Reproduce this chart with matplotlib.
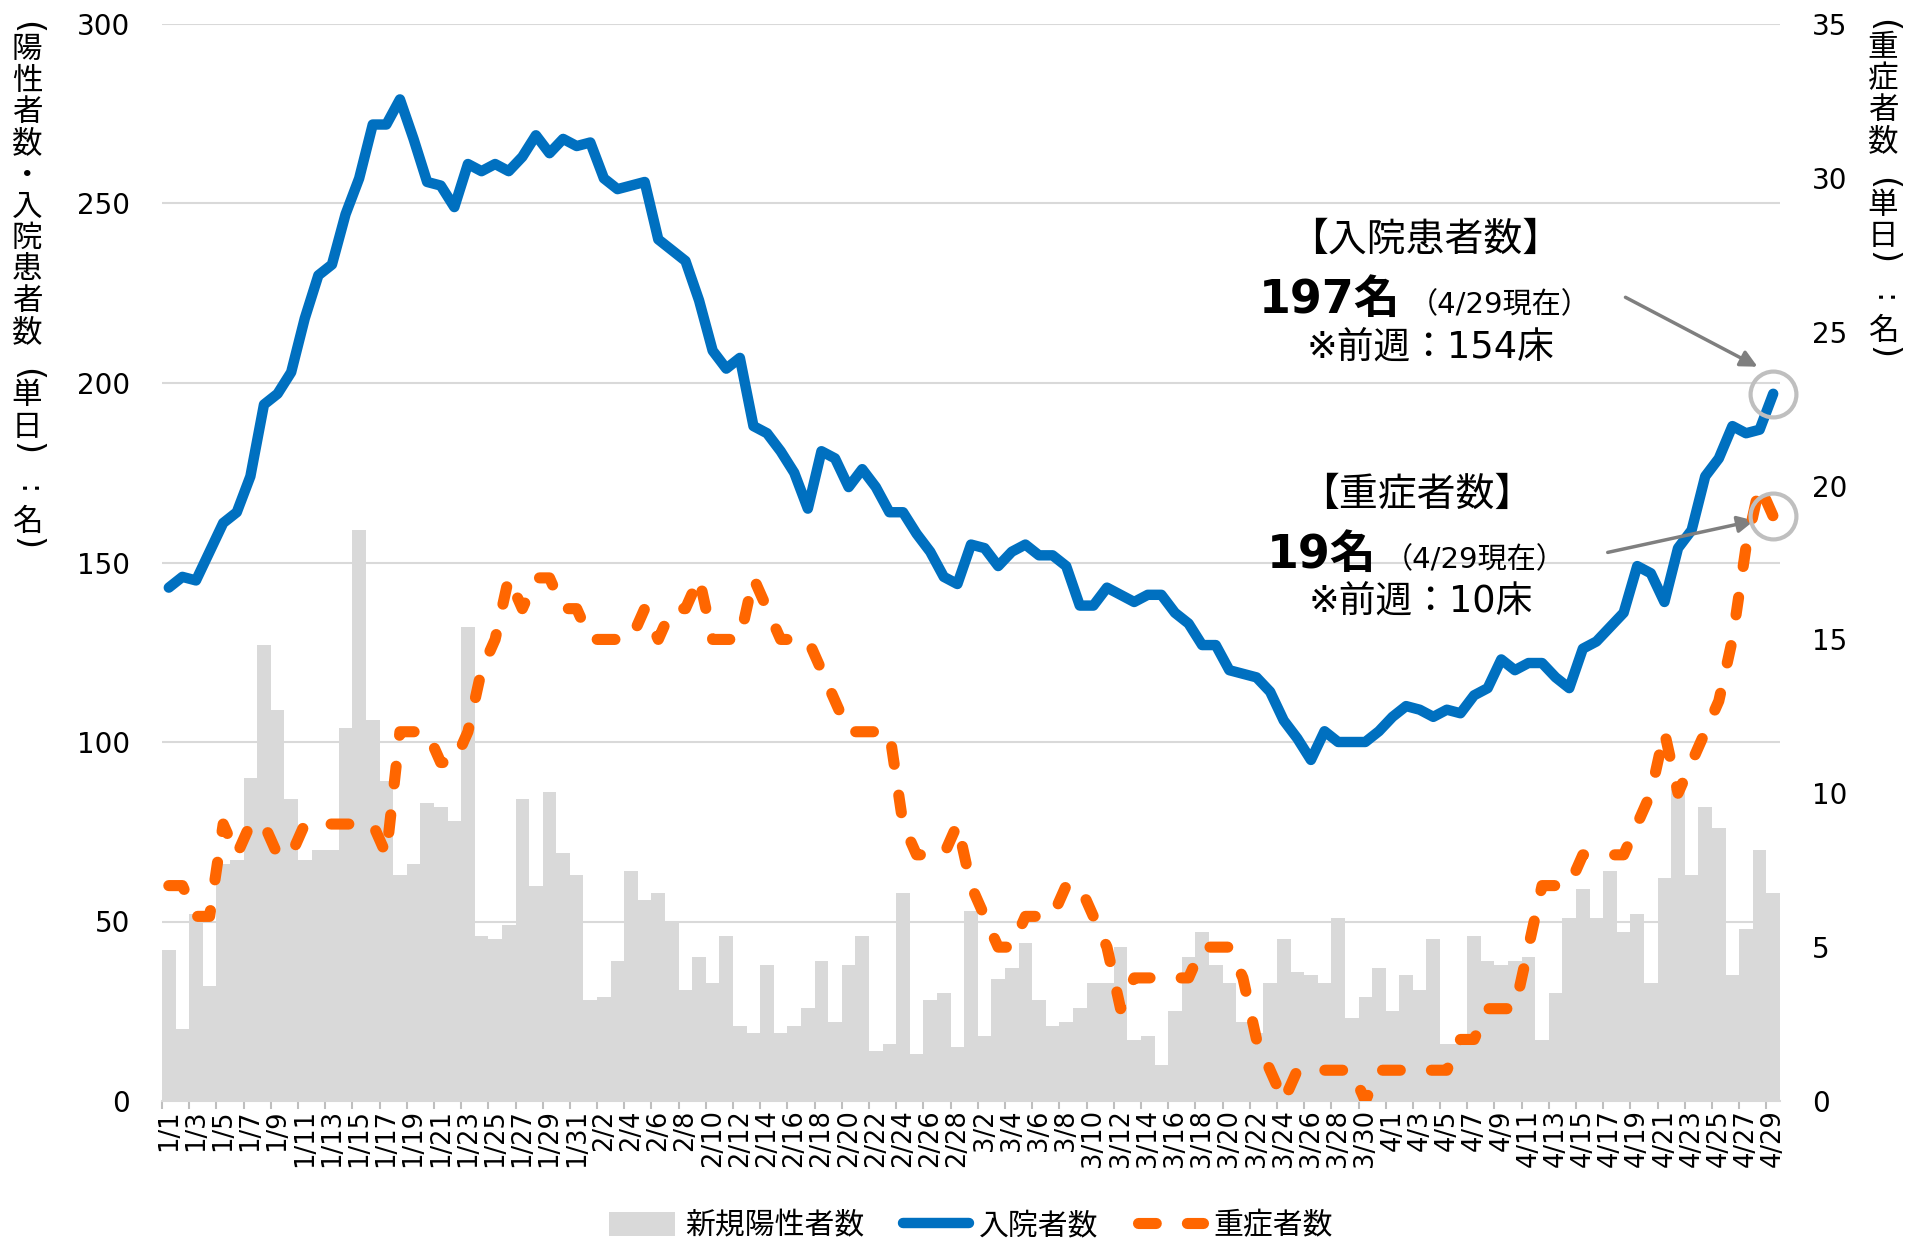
import matplotlib
matplotlib.use("Agg")
import matplotlib.pyplot as plt
from matplotlib.patches import Patch
from matplotlib.lines import Line2D

plt.rcParams['font.family'] = ['DejaVu Sans', 'Noto Sans CJK JP']

W, H = 1907, 1241

# categories: every day 1/1 .. 4/29
month_days = [(1, 31), (2, 28), (3, 31), (4, 29)]
dates = [f"{m}/{d}" for m, n in month_days for d in range(1, n + 1)]

# new positives (left axis)
new_cases = [
    42, 20, 52, 32, 66, 67, 90, 127, 109, 84, 67, 70, 70, 104, 159, 106, 89, 63, 66, 83,
    82, 78, 132, 46, 45, 49, 84, 60, 86, 69, 63,
    28, 29, 39, 64, 56, 58, 50, 31, 40, 33, 46, 21, 19, 38, 19, 21, 26, 39, 22, 38,
    46, 14, 16, 58, 13, 28, 30, 15,
    53, 18, 34, 37, 44, 28, 21, 22, 26, 33, 33, 43, 17, 18, 10, 25, 40, 47, 38, 33,
    22, 19, 33, 45, 36, 35, 33, 51, 23, 29, 37,
    25, 35, 31, 45, 16, 16, 46, 39, 38, 39, 40, 17, 30, 51, 59, 51, 64, 47, 52, 33,
    62, 87, 63, 82, 76, 35, 48, 70, 58,
]

# hospitalized (left axis)
hospital = [
    143, 146, 145, 153, 161, 164, 174, 194, 197, 203, 218, 230, 233, 247, 257, 272, 272, 279, 268, 256,
    255, 249, 261, 259, 261, 259, 263, 269, 264, 268, 266,
    267, 257, 254, 255, 256, 240, 237, 234, 223, 209, 204, 207, 188, 186, 181, 175, 165, 181, 179, 171,
    176, 171, 164, 164, 158, 153, 146, 144,
    155, 154, 149, 153, 155, 152, 152, 149, 138, 138, 143, 141, 139, 141, 141, 136, 133, 127, 127, 120,
    119, 118, 114, 106, 101, 95, 103, 100, 100, 100, 103,
    107, 110, 109, 107, 109, 108, 113, 115, 123, 120, 122, 122, 118, 115, 126, 128, 132, 136, 149, 147,
    139, 154, 159, 174, 179, 188, 186, 187, 197,
]

# severe (right axis)
severe = [
    7, 7, 6, 6, 9, 8, 9, 9, 8, 8, 9, 9, 9, 9, 9, 9, 8, 12, 12, 12,
    11, 11, 12, 14, 15, 17, 16, 17, 17, 16, 16,
    15, 15, 15, 15, 16, 15, 16, 16, 17, 15, 15, 15, 17, 16, 15, 15, 15, 14, 13, 12,
    12, 12, 12, 9, 8, 8, 8, 9,
    7, 6, 5, 5, 6, 6, 6, 7, 7, 6, 5, 3, 4, 4, 4, 4, 4, 5, 5, 5,
    4, 2, 1, 0, 1, 1, 1, 1, 1, 0, 1,
    1, 1, 1, 1, 1, 2, 2, 3, 3, 3, 5, 7, 7, 7, 8, 8, 8, 8, 9, 10,
    12, 10, 11, 12, 13, 15, 18, 20, 19,
]

left_ticks = [0, 50, 100, 150, 200, 250, 300]
right_ticks = [0, 5, 10, 15, 20, 25, 30, 35]

GRAY_BAR = '#d9d9d9'
BLUE = '#0070c0'
ORANGE = '#ff6600'

fig = plt.figure(figsize=(W / 100, H / 100), dpi=100)
ax = fig.add_axes([162 / W, 1 - 1101 / H, (1780 - 162) / W, (1101 - 24) / H])
ax2 = ax.twinx()

x = list(range(len(dates)))
ax.bar(x, new_cases, width=1.0, color=GRAY_BAR, zorder=2)
ax.plot(x, hospital, color=BLUE, lw=7.5, solid_capstyle='round',
        solid_joinstyle='round', zorder=3)
ax2.plot(x, severe, color=ORANGE, lw=8, linestyle=(0, (1.6, 2.8)),
         dash_capstyle='round', dash_joinstyle='round', zorder=3)

# highlight rings on the latest values
ax.plot(x[-1], hospital[-1], 'o', ms=33, mfc='none', mec='#bfbfbf', mew=3,
        zorder=4, clip_on=False)
ax2.plot(x[-1], severe[-1], 'o', ms=33, mfc='none', mec='#bfbfbf', mew=3,
         zorder=4, clip_on=False)

ax.set_xlim(-0.5, len(dates) - 0.5)
ax.set_ylim(0, 300)
ax2.set_ylim(0, 35)
ax.set_yticks(left_ticks)
ax2.set_yticks(right_ticks)

ax.set_xticks(x[::2])
ax.set_xticklabels(dates[::2], rotation=90, fontsize=18.5)
ax.set_xticks([i - 0.5 for i in x[::2]], minor=True)
ax.tick_params(axis='x', which='major', length=0, pad=6)
ax.tick_params(axis='x', which='minor', length=6, width=1.5, color='#bfbfbf')
ax.tick_params(axis='y', length=0, pad=23, labelsize=20)
ax2.tick_params(axis='y', length=0, pad=23, labelsize=20)

ax.set_axisbelow(True)
ax.yaxis.grid(True, color='#d9d9d9', lw=1.5, zorder=0)
for s in ('top', 'left', 'right'):
    ax.spines[s].set_visible(False)
ax.spines['bottom'].set_color('#d9d9d9')
ax.spines['bottom'].set_linewidth(1.5)
for s in ax2.spines.values():
    s.set_visible(False)


def px(xp, yp):
    return xp / W, 1 - yp / H


def vlabel(text, xp, y0, size=22, cell=31.5):
    """Stack characters top to bottom like vertical Japanese text."""
    y = y0
    for ch in text:
        dy, rot, fs = 0, 0, size
        if ch == '(':
            dy, rot, fs = 10, -90, size * 1.1
        elif ch == ')':
            dy, rot, fs = -10, -90, size * 1.1
        elif ch == ':':
            rot = -90
        fig.text(*px(xp, y + dy), ch, rotation=rot, ha='center', va='center', fontsize=fs)
        y += cell


vlabel('(陽性者数・入院患者数(単日):名)', 27, 18)
vlabel('(重症者数(単日):名)', 1883, 16)

# call-out texts
fig.text(*px(1425, 240), '【入院患者数】', ha='center', va='center', fontsize=28)
fig.text(*px(1259, 313), '197名', ha='left', va='baseline', fontsize=33, fontweight='bold')
fig.text(*px(1409, 313), '（4/29現在）', ha='left', va='baseline', fontsize=21)
fig.text(*px(1430, 347), '※前週：154床', ha='center', va='center', fontsize=26.5)

fig.text(*px(1417, 495), '【重症者数】', ha='center', va='center', fontsize=28)
fig.text(*px(1267, 568), '19名', ha='left', va='baseline', fontsize=33, fontweight='bold')
fig.text(*px(1384, 568), '（4/29現在）', ha='left', va='baseline', fontsize=21)
fig.text(*px(1421, 601), '※前週：10床', ha='center', va='center', fontsize=26.5)

arrow = dict(arrowstyle='-|>', color='#7f7f7f', lw=2.5, mutation_scale=25)
ax.annotate('', xy=(1760, H - 368), xycoords='figure pixels',
            xytext=(1623, H - 296), textcoords='figure pixels', arrowprops=arrow)
ax.annotate('', xy=(1757, H - 520), xycoords='figure pixels',
            xytext=(1605, H - 553), textcoords='figure pixels', arrowprops=arrow)

handles = [
    Patch(facecolor=GRAY_BAR, edgecolor='none'),
    Line2D([], [], color=BLUE, lw=7.5, solid_capstyle='round'),
    Line2D([], [], color=ORANGE, lw=8, linestyle=(0, (1.6, 2.8)), dash_capstyle='round'),
]
fig.legend(handles, ['新規陽性者数', '入院者数', '重症者数'], loc='center',
           bbox_to_anchor=(971 / W, 15 / H), ncol=3, frameon=False, fontsize=21.5,
           handlelength=2.2, handletextpad=0.35, columnspacing=1.3, handleheight=0.85)

fig.savefig('out.png', dpi=100)
